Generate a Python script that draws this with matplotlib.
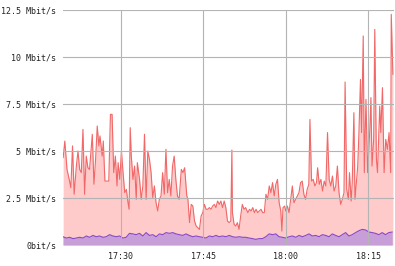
import matplotlib.pyplot as plt
import numpy as np

# minutes after 17:00
in_time = [
    19.5, 19.8, 20.2, 20.6, 20.9, 21.2, 21.5, 21.9, 22.2, 22.5,
    22.8, 23.1, 23.4, 23.7, 24.0, 24.3, 24.8, 25.1, 25.4, 25.7,
    26.0, 26.2, 26.6, 26.8, 27.1, 27.5, 27.8, 28.1, 28.4, 28.7,
    29.0, 29.3, 29.5, 29.8, 30.1, 30.4, 30.7, 31.0, 31.3, 31.5,
    31.7, 31.9, 32.2, 32.5, 32.8, 33.0, 33.4, 33.7, 34.0, 34.3,
    34.6, 34.9, 35.2, 35.5, 35.8, 36.1, 36.4, 36.7, 37.0, 37.3,
    37.6, 37.9, 38.2, 38.5, 38.8, 39.1, 39.4, 39.7, 40.0, 40.3,
    40.6, 41.0, 41.3, 41.6, 42.0, 42.2, 42.5, 42.8, 43.1, 43.4,
    43.7, 44.0, 44.3, 44.6, 44.9, 45.2, 45.5, 45.8, 46.1, 46.4,
    46.7, 47.0, 47.3, 47.6, 47.9, 48.2, 48.5, 48.8, 49.1, 49.4,
    49.7, 50.0, 50.2, 50.3, 50.6, 50.9, 51.2, 51.5, 51.8, 52.1,
    52.4, 52.7, 53.1, 53.4, 53.7, 54.0, 54.3, 54.6, 54.9, 55.2,
    55.5, 55.8, 56.1, 56.4, 56.7, 57.0, 57.3, 57.6, 57.9, 58.2,
    58.5, 58.8, 59.1, 59.3, 59.5, 59.8, 60.0, 60.3, 60.6, 60.9,
    61.2, 61.5, 61.8, 62.1, 62.4, 62.7, 63.0, 63.3, 63.6, 63.9,
    64.2, 64.4, 64.7, 65.0, 65.3, 65.6, 65.8, 66.1, 66.4, 66.7,
    67.0, 67.3, 67.6, 67.9, 68.2, 68.5, 68.8, 69.1, 69.4, 69.7,
    70.0, 70.3, 70.6, 70.8, 71.1, 71.4, 71.6, 71.9, 72.1, 72.4,
    72.6, 72.8, 73.1, 73.3, 73.6, 73.8, 74.1, 74.3, 74.6, 74.9,
    75.3, 75.5, 75.7, 76.0, 76.2, 76.5, 76.7, 77.1, 77.3, 77.6,
    77.9, 78.2, 78.5, 78.8, 79.1, 79.2, 79.5,
]
# Mbit/s
in_rate = [
    4.65, 5.53, 4.02, 3.49, 3.05, 5.27, 2.70, 4.20, 5.00, 4.02,
    3.85, 6.15, 2.70, 4.73, 4.11, 4.02, 5.89, 3.23, 4.56, 6.33,
    5.27, 5.80, 4.73, 5.53, 3.40, 3.40, 3.40, 6.95, 6.95, 3.85,
    4.73, 3.14, 4.38, 3.49, 5.00, 3.85, 2.78, 2.96, 2.25, 1.90,
    6.24, 4.73, 3.49, 4.20, 2.43, 4.38, 3.49, 2.43, 3.14, 5.89,
    2.43, 5.00, 4.56, 3.85, 2.52, 3.14, 2.25, 1.81, 2.43, 2.61,
    3.85, 2.70, 5.09, 2.78, 3.49, 2.61, 4.20, 4.73, 3.49, 2.61,
    2.43, 4.02, 3.85, 4.11, 2.61, 2.43, 1.19, 2.16, 2.07, 1.28,
    1.01, 0.92, 0.83, 1.54, 1.72, 2.16, 1.90, 1.90, 1.99, 1.90,
    2.07, 2.16, 1.99, 2.34, 2.16, 2.34, 1.99, 2.34, 1.99, 1.28,
    1.19, 1.28, 5.05, 1.72, 1.10, 1.01, 1.19, 0.83, 1.54, 2.16,
    1.90, 1.99, 1.72, 1.90, 1.81, 1.99, 1.72, 1.90, 1.72, 1.81,
    1.90, 1.72, 1.72, 2.70, 2.43, 3.14, 2.78, 3.32, 2.61, 3.23,
    3.49, 2.25, 1.81, 0.74, 1.99, 2.07, 1.81, 2.07, 1.72, 2.43,
    3.14, 2.25, 2.43, 2.61, 2.78, 3.32, 3.40, 2.70, 2.43, 2.96,
    3.23, 6.68, 3.40, 3.49, 3.14, 3.32, 4.11, 3.23, 3.49, 2.87,
    3.40, 3.14, 5.98, 3.49, 3.14, 3.67, 2.87, 3.14, 4.20, 2.78,
    2.16, 2.43, 2.78, 8.67, 2.96, 2.43, 3.85, 2.34, 3.32, 7.04,
    2.43, 3.14, 4.20, 5.80, 8.81, 5.98, 11.12, 3.85, 7.75, 3.85,
    6.15, 7.84, 4.20, 5.62, 11.47, 4.56, 3.85, 7.39, 5.98, 8.37,
    3.85, 5.62, 5.09, 5.98, 3.85, 12.27, 9.08,
]
out_rate = [
    0.44, 0.37, 0.41, 0.34, 0.37, 0.41, 0.37, 0.48, 0.41, 0.51,
    0.44, 0.48, 0.41, 0.44, 0.55, 0.48, 0.44, 0.48, 0.37, 0.41,
    0.62, 0.59, 0.55, 0.62, 0.48, 0.66, 0.51, 0.55, 0.44, 0.59,
    0.55, 0.66, 0.62, 0.66, 0.59, 0.55, 0.51, 0.59, 0.51, 0.44,
    0.48, 0.44, 0.41, 0.37, 0.48, 0.44, 0.51, 0.44, 0.48, 0.44,
    0.51, 0.44, 0.41, 0.44, 0.41, 0.41, 0.37, 0.34, 0.30, 0.34,
    0.34, 0.44, 0.59, 0.55, 0.59, 0.44, 0.41, 0.37, 0.44, 0.48,
    0.41, 0.51, 0.44, 0.51, 0.59, 0.48, 0.51, 0.44, 0.55, 0.51,
    0.44, 0.59, 0.51, 0.44, 0.55, 0.66, 0.48, 0.55, 0.66, 0.76,
    0.83, 0.80, 0.69, 0.66, 0.62, 0.55, 0.66, 0.55, 0.66, 0.69,
]
out_time = 19.47 + 0.605 * np.arange(len(out_rate))

x_ticks = [30, 45, 60, 75]
x_labels = ["17:30", "17:45", "18:00", "18:15"]
y_ticks = [0, 2.5, 5, 7.5, 10, 12.5]
y_labels = ["0bit/s", "2.5 Mbit/s", "5 Mbit/s", "7.5 Mbit/s", "10 Mbit/s", "12.5 Mbit/s"]

plt.rcParams["font.family"] = "DejaVu Sans Mono"

fig = plt.figure(figsize=(3.95, 2.66), dpi=100)
ax = fig.add_axes([63 / 395, 21 / 266, 331 / 395, 235 / 266])

ax.fill_between(in_time, in_rate, color="#ffcaca", lw=0)
ax.plot(in_time, in_rate, color="#f06868", lw=0.8)
ax.fill_between(out_time, out_rate, color="#c89ed8", lw=0)
ax.plot(out_time, out_rate, color="#8848c8", lw=0.8)

ax.set_xlim(19.47, 79.7)
ax.set_ylim(0, 12.5)
ax.set_xticks(x_ticks, x_labels)
ax.set_yticks(y_ticks, y_labels)
ax.tick_params(length=0, labelsize=6, colors="#222222", pad=5)
ax.grid(True, color="#b4b4b4", lw=0.8)
ax.set_axisbelow(False)
for s in ax.spines.values():
    s.set_visible(False)

fig.savefig("out.png", dpi=100)
